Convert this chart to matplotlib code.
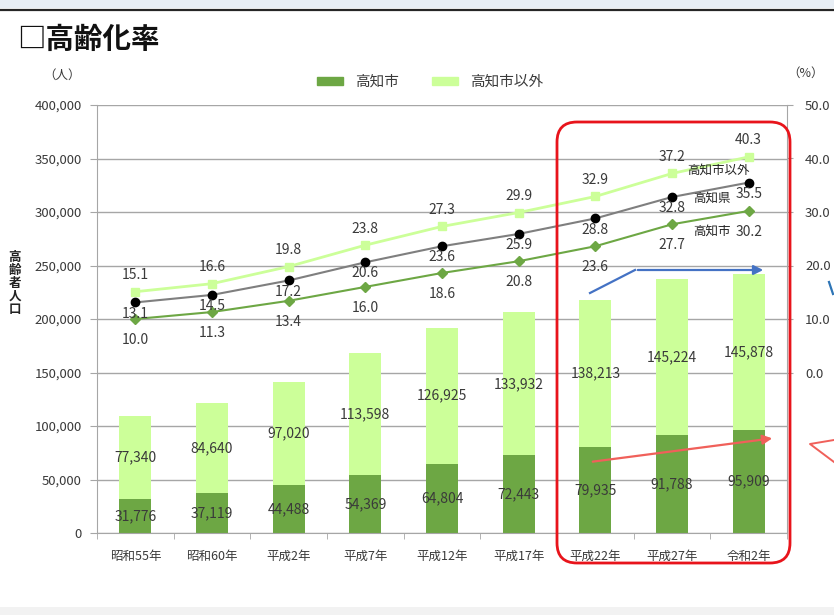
import numpy as np
import matplotlib
matplotlib.use("Agg")
import matplotlib.pyplot as plt
from matplotlib.patches import Patch, FancyBboxPatch, Rectangle
from matplotlib.ticker import FuncFormatter, FixedLocator

plt.rcParams['font.family'] = ['Noto Sans CJK JP', 'DejaVu Sans']

# データ
years = ['昭和55年', '昭和60年', '平成2年', '平成7年', '平成12年', '平成17年', '平成22年', '平成27年', '令和2年']
pop_city = [31776, 37119, 44488, 54369, 64804, 72443, 79935, 91788, 95909]
pop_other = [77340, 84640, 97020, 113598, 126925, 133932, 138213, 145224, 145878]
rate_other = [15.1, 16.6, 19.8, 23.8, 27.3, 29.9, 32.9, 37.2, 40.3]
rate_pref = [13.1, 14.5, 17.2, 20.6, 23.6, 25.9, 28.8, 32.8, 35.5]
rate_city = [10.0, 11.3, 13.4, 16.0, 18.6, 20.8, 23.6, 27.7, 30.2]

c_dark = '#6DA744'
c_light = '#CCFF99'
c_grid = '#A6A6A6'
c_txt = '#3A3A3A'

W, H = 834, 615
fig = plt.figure(figsize=(W / 100, H / 100), dpi=100)
ax = fig.add_axes([97 / W, 1 - 533 / H, (787 - 97) / W, (533 - 105) / H])

x = np.arange(len(years))
ax.bar(x, pop_city, width=0.42, color=c_dark, zorder=2)
ax.bar(x, pop_other, width=0.42, bottom=pop_city, color=c_light, zorder=2)

for i in range(len(x)):
    ax.text(x[i], pop_city[i] / 2, f'{pop_city[i]:,}', ha='center', va='center',
            fontsize=10, color=c_txt, zorder=3)
    ax.text(x[i], pop_city[i] + pop_other[i] / 2, f'{pop_other[i]:,}', ha='center',
            va='center', fontsize=10, color=c_txt, zorder=3)

ax.set_xlim(-0.5, 8.5)
ax.set_ylim(0, 400000)
ax.set_yticks(np.arange(0, 400001, 50000))
ax.yaxis.set_major_formatter(FuncFormatter(lambda v, p: f'{int(v):,}'))
ax.set_xticks(x)
ax.set_xticklabels(years, fontsize=9, color=c_txt)
ax.xaxis.set_minor_locator(FixedLocator(np.arange(-0.5, 9, 1)))
ax.tick_params(axis='x', which='major', length=0, pad=12)
ax.tick_params(axis='x', which='minor', length=4, color=c_grid)
ax.tick_params(axis='y', length=5, color=c_grid, labelsize=9.5, labelcolor=c_txt, pad=6)
ax.grid(axis='y', color=c_grid, lw=1, zorder=0)
ax.set_axisbelow(True)
for s in ['top', 'right']:
    ax.spines[s].set_visible(False)
for s in ['left', 'bottom']:
    ax.spines[s].set_color(c_grid)

ax2 = ax.twinx()
ax2.plot(x, rate_other, color=c_light, lw=2, marker='s', ms=6, zorder=3)
ax2.plot(x, rate_pref, color='#7F7F7F', lw=1.5, marker='o', ms=6, mfc='black', mec='black', zorder=3)
ax2.plot(x, rate_city, color=c_dark, lw=1.5, marker='D', ms=5.5, zorder=3)
for i in range(len(x)):
    ax2.annotate(f'{rate_other[i]:.1f}', (x[i], rate_other[i]), xytext=(0, 12),
                 textcoords='offset points', ha='center', va='center', fontsize=10, color=c_txt)
    ax2.annotate(f'{rate_pref[i]:.1f}', (x[i], rate_pref[i]), xytext=(0, -8),
                 textcoords='offset points', ha='center', va='center', fontsize=10, color=c_txt)
    ax2.annotate(f'{rate_city[i]:.1f}', (x[i], rate_city[i]), xytext=(0, -15),
                 textcoords='offset points', ha='center', va='center', fontsize=10, color=c_txt)
ax2.text(7.6, 37.8, '高知市以外', ha='center', va='center', fontsize=9, color='#222222')
ax2.text(7.52, 32.5, '高知県', ha='center', va='center', fontsize=9, color='#222222')
ax2.text(7.52, 26.4, '高知市', ha='center', va='center', fontsize=9, color='#222222')
ax2.set_ylim(-30, 50)
ax2.set_yticks(np.arange(0, 51, 10))
ax2.yaxis.set_major_formatter(FuncFormatter(lambda v, p: f'{v:.1f}'))
ax2.tick_params(axis='y', length=4, color=c_grid, labelsize=9.5, labelcolor=c_txt, pad=9)
for s in ['top', 'left', 'bottom']:
    ax2.spines[s].set_visible(False)
ax2.spines['right'].set_color(c_grid)

# 凡例
handles = [Patch(color=c_dark, label='高知市'), Patch(color=c_light, label='高知市以外')]
fig.legend(handles=handles, loc='center', bbox_to_anchor=(430 / W, 1 - 82 / H), ncol=2,
           frameon=False, fontsize=10.5, handlelength=1.8, handleheight=0.5,
           columnspacing=2.3, labelcolor=c_txt)

# 装飾用オーバーレイ（ピクセル座標）
ov = fig.add_axes([0, 0, 1, 1], zorder=10)
ov.set_xlim(0, W)
ov.set_ylim(H, 0)
ov.axis('off')
ov.patch.set_alpha(0)
ov.add_patch(Rectangle((0, 0), W, 8, color='#E8EEF5', lw=0))
ov.plot([0, W], [9.5, 9.5], color='#262626', lw=1.6)
ov.add_patch(Rectangle((0, 607), W, 8, color='#F2F2F2', lw=0))
ov.text(17, 40, '□高齢化率', fontsize=20.5, fontweight='bold', ha='left', va='center', color='#111111')
ov.text(62, 75, '（人）', fontsize=9, ha='center', va='center', color=c_txt)
ov.text(806, 73, '（%）', fontsize=9, ha='center', va='center', color=c_txt)
ov.text(15, 283, '\n'.join('高齢者人口'), fontsize=9, ha='center', va='center',
        linespacing=1.0, fontweight='bold', color='#222222')
ov.add_patch(FancyBboxPatch((557 + 20, 122 + 20), 233 - 40, 441 - 40,
                            boxstyle='round,pad=20', fc='none', ec='#E8141B', lw=2))
ov.annotate('', xy=(766, 270), xytext=(635, 270),
            arrowprops=dict(arrowstyle='-|>', color='#4472C4', lw=1.6, mutation_scale=14))
ov.plot([590, 635], [293, 270], color='#4472C4', lw=1.6)
ov.annotate('', xy=(775, 438), xytext=(590, 462),
            arrowprops=dict(arrowstyle='-|>', color='#F0605A', lw=1.6, mutation_scale=14))
ov.plot([829, 833], [282, 294], color='#2E75B6', lw=1.6)
ov.plot([834, 810, 834], [440, 444, 462], color='#F0605A', lw=1.4)

fig.savefig('out.png', dpi=100)
